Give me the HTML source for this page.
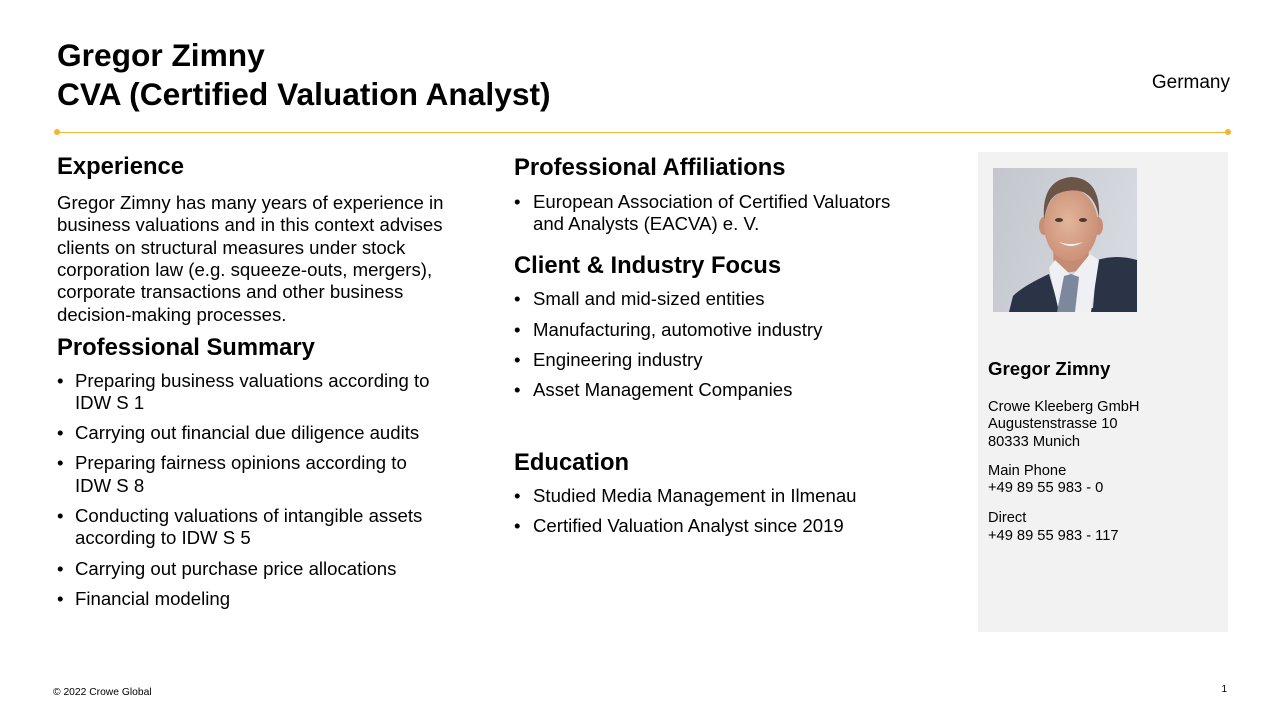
<!DOCTYPE html>
<html>
<head>
<meta charset="utf-8">
<style>
  html, body { margin:0; padding:0; }
  body { width:1280px; height:720px; position:relative; overflow:hidden; background:#ffffff;
         font-family:"Liberation Sans", Arial, sans-serif; color:#000; }
  .abs { position:absolute; white-space:nowrap; }
  .title { font-weight:bold; font-size:31.7px; line-height:38.4px; left:57px; top:36.2px; }
  .h { font-weight:bold; font-size:23.8px; line-height:28.8px; }
  .b { font-size:18.6px; line-height:22.4px; }
  .bul { position:absolute; font-size:18.6px; line-height:22.4px; white-space:nowrap; }
  .bul .dot { position:absolute; left:0; top:0; }
  .bul .t { position:absolute; left:18px; top:0; }
  .s { font-size:14.67px; line-height:17.6px; left:988px; }
</style>
</head>
<body>

<div class="abs title">Gregor Zimny<br>CVA (Certified Valuation Analyst)</div>
<div class="abs" style="right:50px; top:72.9px; font-size:19px; line-height:19px;">Germany</div>

<!-- orange rule -->
<div class="abs" style="left:57px; top:131.5px; width:1171px; height:1.3px; background:#F5B335;"></div>
<div class="abs" style="left:54px; top:129px; width:6px; height:6px; border-radius:50%; background:#F5B335;"></div>
<div class="abs" style="left:1225px; top:129px; width:6px; height:6px; border-radius:50%; background:#F5B335;"></div>

<!-- Column 1 -->
<div class="abs h" style="left:57px; top:153.3px;">Experience</div>
<div class="abs b" style="left:57px; top:191.8px;">Gregor Zimny has many years of experience in<br>business valuations and in this context advises<br>clients on structural measures under stock<br>corporation law (e.g. squeeze-outs, mergers),<br>corporate transactions and other business<br>decision-making processes.</div>

<div class="abs h" style="left:57px; top:334.3px;">Professional Summary</div>
<div class="bul" style="left:57px; top:369.8px;"><span class="dot">•</span><span class="t">Preparing business valuations according to<br>IDW S 1</span></div>
<div class="bul" style="left:57px; top:422.3px;"><span class="dot">•</span><span class="t">Carrying out financial due diligence audits</span></div>
<div class="bul" style="left:57px; top:452.3px;"><span class="dot">•</span><span class="t">Preparing fairness opinions according to<br>IDW S 8</span></div>
<div class="bul" style="left:57px; top:504.8px;"><span class="dot">•</span><span class="t">Conducting valuations of intangible assets<br>according to IDW S 5</span></div>
<div class="bul" style="left:57px; top:557.6px;"><span class="dot">•</span><span class="t">Carrying out purchase price allocations</span></div>
<div class="bul" style="left:57px; top:587.8px;"><span class="dot">•</span><span class="t">Financial modeling</span></div>

<!-- Column 2 -->
<div class="abs h" style="left:514px; top:153.8px;">Professional Affiliations</div>
<div class="bul" style="left:514px; top:190.8px;"><span class="dot">•</span><span class="t" style="left:19px;">European Association of Certified Valuators<br>and Analysts (EACVA) e. V.</span></div>

<div class="abs h" style="left:514px; top:252.3px;">Client &amp; Industry Focus</div>
<div class="bul" style="left:514px; top:288.3px;"><span class="dot">•</span><span class="t" style="left:19px;">Small and mid-sized entities</span></div>
<div class="bul" style="left:514px; top:318.6px;"><span class="dot">•</span><span class="t" style="left:19px;">Manufacturing, automotive industry</span></div>
<div class="bul" style="left:514px; top:348.8px;"><span class="dot">•</span><span class="t" style="left:19px;">Engineering industry</span></div>
<div class="bul" style="left:514px; top:378.8px;"><span class="dot">•</span><span class="t" style="left:19px;">Asset Management Companies</span></div>

<div class="abs h" style="left:514px; top:449.3px;">Education</div>
<div class="bul" style="left:514px; top:484.8px;"><span class="dot">•</span><span class="t" style="left:19px;">Studied Media Management in Ilmenau</span></div>
<div class="bul" style="left:514px; top:514.8px;"><span class="dot">•</span><span class="t" style="left:19px;">Certified Valuation Analyst since 2019</span></div>

<!-- Right panel -->
<div class="abs" style="left:978px; top:152px; width:250px; height:480px; background:#F2F2F2;"></div>

<svg class="abs" style="left:993px; top:168px;" width="144" height="144" viewBox="0 0 144 144">
  <defs>
    <linearGradient id="bg" x1="0" y1="0" x2="1" y2="0.3">
      <stop offset="0" stop-color="#c3c6cd"/>
      <stop offset="1" stop-color="#d6d9df"/>
    </linearGradient>
    <radialGradient id="sk" cx="0.45" cy="0.45" r="0.6">
      <stop offset="0" stop-color="#e3b49b"/>
      <stop offset="1" stop-color="#c98f75"/>
    </radialGradient>
  </defs>
  <rect width="144" height="144" fill="url(#bg)"/>
  <!-- neck -->
  <path d="M60 78 L61 106 L95 102 L96 76 Z" fill="#c48c72"/>
  <!-- suit -->
  <path d="M16 144 L20 128 Q30 118 56 106 L66 140 L100 140 L104 92 Q124 86 144 92 L144 144 Z" fill="#2b3447"/>
  <!-- shirt -->
  <path d="M56 100 L66 144 L98 144 L106 92 L97 86 L79 108 L62 92 Z" fill="#eef0f3"/>
  <!-- tie -->
  <path d="M71 108 L78 106 L86 109 L82 144 L64 144 Z" fill="#7c889b"/>
  <!-- ears -->
  <ellipse cx="51" cy="58" rx="5" ry="9" fill="#c98f75"/>
  <ellipse cx="105" cy="58" rx="5" ry="9" fill="#c98f75"/>
  <!-- face -->
  <ellipse cx="78" cy="57" rx="27" ry="36" fill="url(#sk)"/>
  <!-- hair -->
  <path d="M51 52 Q48 12 78 9 Q108 10 106 50 Q103 30 90 24 Q78 20 64 26 Q54 32 51 52 Z" fill="#6b5547"/>
  <!-- eyes -->
  <ellipse cx="66" cy="52" rx="4" ry="2" fill="#4a3a32"/>
  <ellipse cx="90" cy="52" rx="4" ry="2" fill="#4a3a32"/>
  <!-- mouth -->
  <path d="M66 74 Q78 82 90 74 Q78 78 66 74 Z" fill="#f4f0ee"/>
</svg>

<div class="abs" style="left:988px; top:358.3px; font-weight:bold; font-size:18.67px; line-height:22.4px;">Gregor Zimny</div>
<div class="abs s" style="top:398.8px;">Crowe Kleeberg GmbH<br>Augustenstrasse 10<br>80333 Munich</div>
<div class="abs s" style="top:462.6px;">Main Phone<br>+49 89 55 983 - 0</div>
<div class="abs s" style="top:510.4px;">Direct<br>+49 89 55 983 - 117</div>

<!-- Footer -->
<div class="abs" style="left:53px; top:688.3px; font-size:10.3px; line-height:10.3px;">© 2022 Crowe Global</div>
<div class="abs" style="right:53px; top:684.5px; font-size:10px; line-height:10px;">1</div>

</body>
</html>
